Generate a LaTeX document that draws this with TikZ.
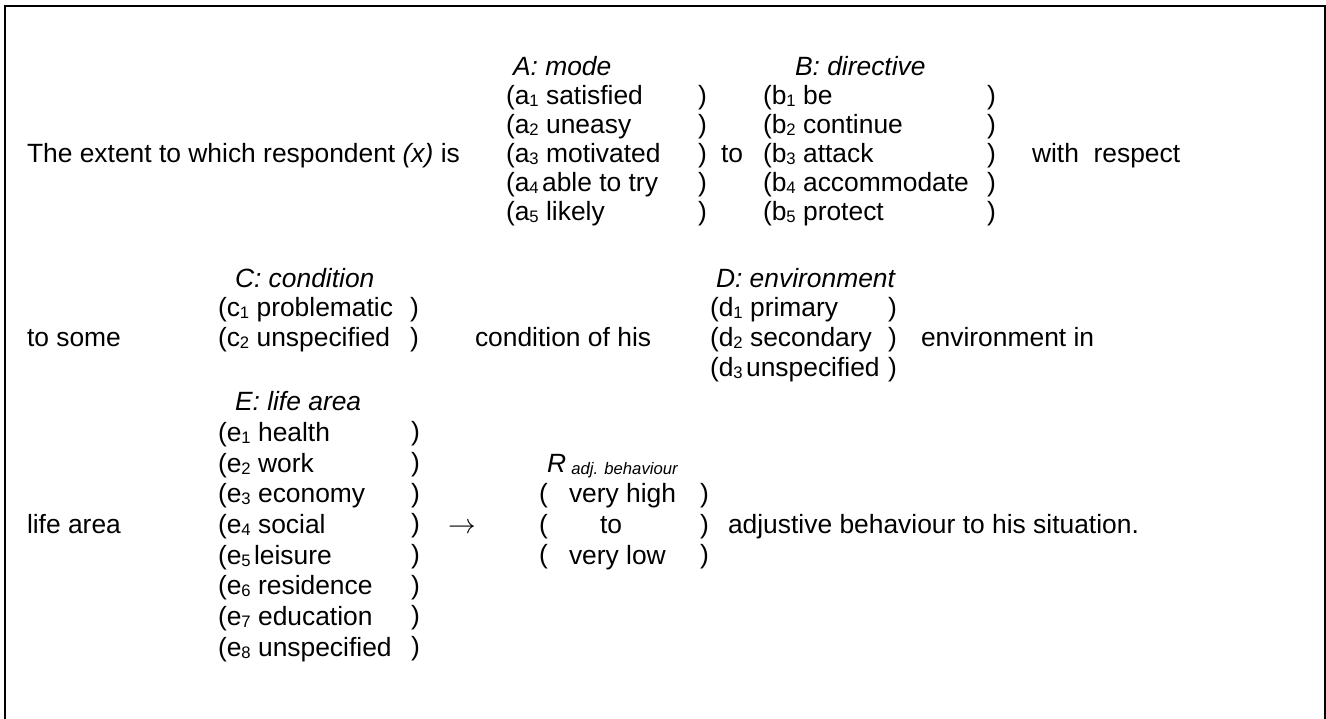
\documentclass[tikz,border=0pt]{standalone}
\usepackage{fontspec}
\setmainfont{Liberation Sans}
% letter with a small lowered index digit
\newcommand\idx[2]{#1\raisebox{-1.6pt}{\fontsize{12.5}{12.5}\selectfont #2}}
\begin{document}
\begin{tikzpicture}[x=0.75pt,y=-0.75pt,
  txt/.style={inner sep=0pt, outer sep=0pt, anchor=base west, font=\fontsize{19.8}{23}\selectfont},
  hdr/.style={txt, font=\fontsize{19.8}{23}\selectfont\itshape},
  frame/.style={line width=1.6pt}]
\useasboundingbox (0,0) rectangle (1326,718);
\begin{scope}
  \clip (0,0) rectangle (1326,718);
  \draw[frame] (5,6) rectangle (1325,740);
\end{scope}

% ---- first line: mode and directive
\node[txt] (lead) at (27,162) {The extent to which respondent \textit{(x)} is};
\node[hdr] (Ahdr) at (513,75) {A: mode};
\node[txt] (a1) at (506,104) {(\idx{a}{1} satisfied};
\node[txt] (a2) at (506,133) {(\idx{a}{2} uneasy};
\node[txt] (a3) at (506,162) {(\idx{a}{3} motivated};
\node[txt] (a4) at (506,191) {(\idx{a}{4}\hspace{2.5pt}able to try};
\node[txt] (a5) at (506,220) {(\idx{a}{5} likely};
\foreach \k in {1,...,5} \node[txt] (ac\k) at (698,{75+29*\k}) {)};
\node[txt] (to1) at (721,162) {to};
\node[hdr] (Bhdr) at (795,75) {B: directive};
\node[txt] (b1) at (763,104) {(\idx{b}{1} be};
\node[txt] (b2) at (763,133) {(\idx{b}{2} continue};
\node[txt] (b3) at (763,162) {(\idx{b}{3} attack};
\node[txt] (b4) at (763,191) {(\idx{b}{4} accommodate};
\node[txt] (b5) at (763,220) {(\idx{b}{5} protect};
\foreach \k in {1,...,5} \node[txt] (bc\k) at (987,{75+29*\k}) {)};
\node[txt] (resp) at (1032,162) {with~~respect};

% ---- second line: condition and environment
\node[txt] (some) at (27,346) {to some};
\node[hdr] (Chdr) at (235,287) {C: condition};
\node[txt] (c1) at (218,316) {(\idx{c}{1} problematic};
\node[txt] (c2) at (218,346) {(\idx{c}{2} unspecified};
\node[txt] (cc1) at (410,316) {)};
\node[txt] (cc2) at (410,346) {)};
\node[txt] (cond) at (475,346) {condition of his};
\node[hdr] (Dhdr) at (716,287) {D: environment};
\node[txt] (d1) at (710,316) {(\idx{d}{1} primary};
\node[txt] (d2) at (710,346) {(\idx{d}{2} secondary};
\node[txt] (d3) at (710,376) {(\idx{d}{3}\hspace{2.5pt}unspecified};
\foreach \k in {1,2,3} \node[txt] (dc\k) at (888,{286+30*\k}) {)};
\node[txt] (env) at (921,346) {environment in};

% ---- third line: life area and response
\node[txt] (life) at (27,533) {life area};
\node[hdr] (Ehdr) at (235,410) {E: life area};
\node[txt] (e1) at (218,441) {(\idx{e}{1} health};
\node[txt] (e2) at (218,472) {(\idx{e}{2} work};
\node[txt] (e3) at (218,502) {(\idx{e}{3} economy};
\node[txt] (e4) at (218,533) {(\idx{e}{4} social};
\node[txt] (e5) at (218,564) {(\idx{e}{5}\hspace{2.5pt}leisure};
\node[txt] (e6) at (218,594) {(\idx{e}{6} residence};
\node[txt] (e7) at (218,625) {(\idx{e}{7} education};
\node[txt] (e8) at (218,656) {(\idx{e}{8} unspecified};
\foreach \k in {1,...,8} \node[txt] (ec\k) at (411,{410+30.7*\k}) {)};
\node[txt] (arr) at (448,533) {$\rightarrow$};
\node[txt] (Rhdr) at (547,472) {\textit{R}\hspace{4pt}\raisebox{-2pt}{\fontsize{12.5}{12.5}\selectfont\itshape adj. behaviour}};
\foreach \k in {1,2,3} {
  \node[txt] (ro\k) at (539,{472+30.5*\k}) {(};
  \node[txt] (rc\k) at (700,{472+30.5*\k}) {)};
}
\node[txt] (hi) at (569,502) {very high};
\node[txt] (rto) at (600,533) {to};
\node[txt] (lo) at (569,564) {very low};
\node[txt] (adj) at (728,533) {adjustive behaviour to his situation.};
\end{tikzpicture}
\end{document}
